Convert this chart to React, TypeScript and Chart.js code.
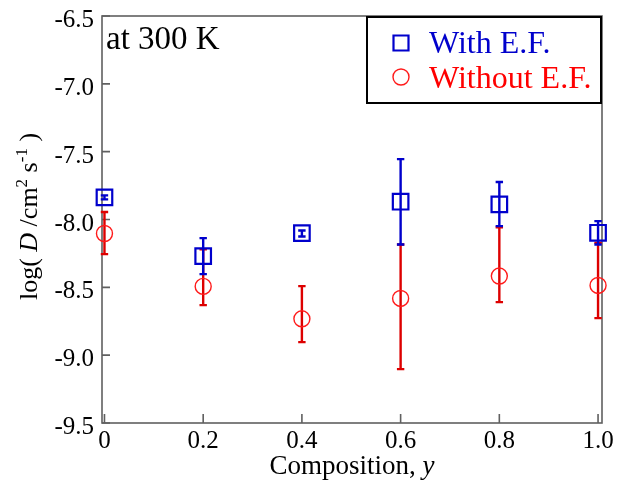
import React, { useEffect, useRef } from "react";
import { Chart, registerables } from "chart.js";

Chart.register(...registerables);

// ---- data ----
const compositions = [0, 0.2, 0.4, 0.6, 0.8, 1.0];
const withEF = [-7.837, -8.27, -8.1, -7.869, -7.889, -8.098];
const withEFLow = [-7.852, -8.403, -8.125, -8.184, -8.049, -8.184];
const withEFHigh = [-7.822, -8.137, -8.081, -7.555, -7.724, -8.012];
const withoutEF = [-8.103, -8.493, -8.732, -8.582, -8.417, -8.486];
const withoutEFLow = [-8.255, -8.631, -8.904, -9.103, -8.609, -8.727];
const withoutEFHigh = [-7.945, -8.22, -8.491, -8.184, -8.058, -8.172];
const xTicks = [0, 0.2, 0.4, 0.6, 0.8, 1.0];
const xTickLabels = ["0", "0.2", "0.4", "0.6", "0.8", "1.0"];
const yTicks = [-9.5, -9.0, -8.5, -8.0, -7.5, -7.0, -6.5];
const yTickLabels = ["-9.5", "-9.0", "-8.5", "-8.0", "-7.5", "-7.0", "-6.5"];
const seriesLabels = ["With E.F.", "Without E.F."];
const annotationText = "at 300 K";

const FONT = '"Liberation Serif", "Times New Roman", serif';
const BLUE = "#0000cc";
const RED = "#ff1a1a";
const RED_BAR = "#dd0000";
const AXIS = "#606060";

type Part = { text: string; size: number; italic?: boolean; dy?: number };

function partFont(p: Part) {
  return `${p.italic ? "italic " : ""}${p.size}px ${FONT}`;
}

function drawRich(ctx: CanvasRenderingContext2D, parts: Part[], cx: number, baseline: number) {
  let total = 0;
  for (const p of parts) {
    ctx.font = partFont(p);
    total += ctx.measureText(p.text).width;
  }
  let x = cx - total / 2;
  ctx.textAlign = "left";
  ctx.textBaseline = "alphabetic";
  for (const p of parts) {
    ctx.font = partFont(p);
    ctx.fillText(p.text, x, baseline + (p.dy || 0));
    x += ctx.measureText(p.text).width;
  }
}

const framePlugin = {
  id: "frameAndErrors",
  beforeDatasetsDraw(chart: any) {
    const { ctx, chartArea: a, scales } = chart;
    const xs = scales.x;
    const ys = scales.y;
    ctx.save();
    // frame
    ctx.strokeStyle = AXIS;
    ctx.lineWidth = 1.6;
    ctx.strokeRect(a.left, a.top, a.right - a.left, a.bottom - a.top);
    // inward ticks
    ctx.beginPath();
    for (const v of xTicks) {
      const px = xs.getPixelForValue(v);
      ctx.moveTo(px, a.bottom);
      ctx.lineTo(px, a.bottom - 9);
    }
    for (const v of yTicks) {
      const py = ys.getPixelForValue(v);
      ctx.moveTo(a.left, py);
      ctx.lineTo(a.left + 8, py);
    }
    ctx.stroke();
    // error bars
    const sets = [
      { low: withoutEFLow, high: withoutEFHigh, color: RED_BAR },
      { low: withEFLow, high: withEFHigh, color: BLUE },
    ];
    for (const s of sets) {
      ctx.strokeStyle = s.color;
      ctx.lineWidth = 2.4;
      ctx.beginPath();
      compositions.forEach((c, i) => {
        const px = xs.getPixelForValue(c);
        const y1 = ys.getPixelForValue(s.low[i]);
        const y2 = ys.getPixelForValue(s.high[i]);
        ctx.moveTo(px, y1);
        ctx.lineTo(px, y2);
        ctx.moveTo(px - 3.7, y1);
        ctx.lineTo(px + 3.7, y1);
        ctx.moveTo(px - 3.7, y2);
        ctx.lineTo(px + 3.7, y2);
      });
      ctx.stroke();
    }
    ctx.restore();
  },
  afterDraw(chart: any) {
    const { ctx, chartArea: a } = chart;
    ctx.save();
    // annotation
    ctx.fillStyle = "#000";
    ctx.font = `33px ${FONT}`;
    ctx.textAlign = "left";
    ctx.textBaseline = "alphabetic";
    ctx.fillText(annotationText, a.left + 4, a.top + 33);

    // legend box
    const bx = 367, by = a.top + 1, bw = 234, bh = 86;
    ctx.fillStyle = "#fff";
    ctx.fillRect(bx, by, bw, bh);
    ctx.strokeStyle = "#000";
    ctx.lineWidth = 2;
    ctx.strokeRect(bx, by, bw, bh);

    const ds = chart.data.datasets;
    const rows = [
      { y: by + 26, baseline: by + 36, color: BLUE, ds: ds[0] },
      { y: by + 60, baseline: by + 71, color: "#ff0000", ds: ds[1] },
    ];
    for (const r of rows) {
      ctx.strokeStyle = r.ds.borderColor;
      ctx.lineWidth = r.ds.borderWidth;
      ctx.beginPath();
      if (r.ds.pointStyle === "rect") {
        ctx.rect(401 - 7.5, r.y - 7.5, 15, 15);
      } else {
        ctx.arc(401, r.y, 8, 0, Math.PI * 2);
      }
      ctx.stroke();
      ctx.fillStyle = r.color;
      ctx.font = `32px ${FONT}`;
      ctx.textAlign = "left";
      ctx.textBaseline = "alphabetic";
      ctx.fillText(r.ds.label, 429, r.baseline);
    }

    // x-axis title
    ctx.fillStyle = "#000";
    drawRich(
      ctx,
      [
        { text: "Composition, ", size: 27 },
        { text: "y", size: 27, italic: true },
      ],
      (a.left + a.right) / 2,
      474
    );

    // y-axis title
    ctx.save();
    ctx.translate(37, (a.top + a.bottom) / 2 - 3);
    ctx.rotate(-Math.PI / 2);
    drawRich(
      ctx,
      [
        { text: "log( ", size: 26 },
        { text: "D", size: 26, italic: true },
        { text: " /cm", size: 26 },
        { text: "2", size: 17, dy: -10 },
        { text: " s", size: 26 },
        { text: "-1", size: 17, dy: -10 },
        { text: " )", size: 26 },
      ],
      0,
      0
    );
    ctx.restore();
    ctx.restore();
  },
};

export default function App() {
  const ref = useRef<HTMLCanvasElement | null>(null);

  useEffect(() => {
    if (!ref.current) return;
    const chart = new Chart(ref.current, {
      type: "scatter",
      data: {
        datasets: [
          {
            label: seriesLabels[0],
            data: compositions.map((x, i) => ({ x, y: withEF[i] })),
            pointStyle: "rect",
            pointRadius: 11,
            pointHoverRadius: 11,
            borderColor: BLUE,
            backgroundColor: "rgba(0,0,0,0)",
            borderWidth: 2.2,
            showLine: false,
            clip: false,
          } as any,
          {
            label: seriesLabels[1],
            data: compositions.map((x, i) => ({ x, y: withoutEF[i] })),
            pointStyle: "circle",
            pointRadius: 8,
            pointHoverRadius: 8,
            borderColor: RED,
            backgroundColor: "rgba(0,0,0,0)",
            borderWidth: 1.4,
            showLine: false,
            clip: false,
          } as any,
        ],
      },
      options: {
        responsive: false,
        animation: false,
        devicePixelRatio: 1,
        layout: { padding: { left: 0, top: 16, right: 20, bottom: 0 } },
        plugins: {
          legend: { display: false },
          tooltip: { enabled: false },
          title: { display: false },
        },
        events: [],
        scales: {
          x: {
            type: "linear",
            min: -0.005,
            max: 1.008,
            grid: { display: false, drawTicks: false },
            border: { display: false },
            afterFit: (s: any) => {
              s.height = 60;
              s.paddingLeft = 0;
              s.paddingRight = 0;
            },
            afterBuildTicks: (s: any) => {
              s.ticks = xTicks.map((v) => ({ value: v }));
            },
            ticks: {
              padding: 3,
              color: "#000",
              font: { family: FONT, size: 25 },
              maxRotation: 0,
              autoSkip: false,
              callback: (v: any) => {
                const idx = xTicks.findIndex((t) => Math.abs(t - Number(v)) < 1e-9);
                return idx >= 0 ? xTickLabels[idx] : "";
              },
            },
          },
          y: {
            type: "linear",
            min: -9.5,
            max: -6.5,
            grid: { display: false, drawTicks: false },
            border: { display: false },
            afterFit: (s: any) => {
              s.width = 102;
              s.paddingTop = 0;
              s.paddingBottom = 0;
            },
            afterBuildTicks: (s: any) => {
              s.ticks = yTicks.map((v) => ({ value: v }));
            },
            ticks: {
              padding: 8,
              color: "#000",
              font: { family: FONT, size: 25, lineHeight: "9px" },
              autoSkip: false,
              callback: (v: any) => {
                const idx = yTicks.findIndex((t) => Math.abs(t - Number(v)) < 1e-9);
                return idx >= 0 ? ["", yTickLabels[idx]] : "";
              },
            },
          },
        },
      },
      plugins: [framePlugin],
    });
    return () => chart.destroy();
  }, []);

  return (
    <div style={{ position: "absolute", left: 0, top: 0, width: 622, height: 483, background: "#fff" }}>
      <canvas ref={ref} width={622} height={483} style={{ display: "block" }} />
    </div>
  );
}
